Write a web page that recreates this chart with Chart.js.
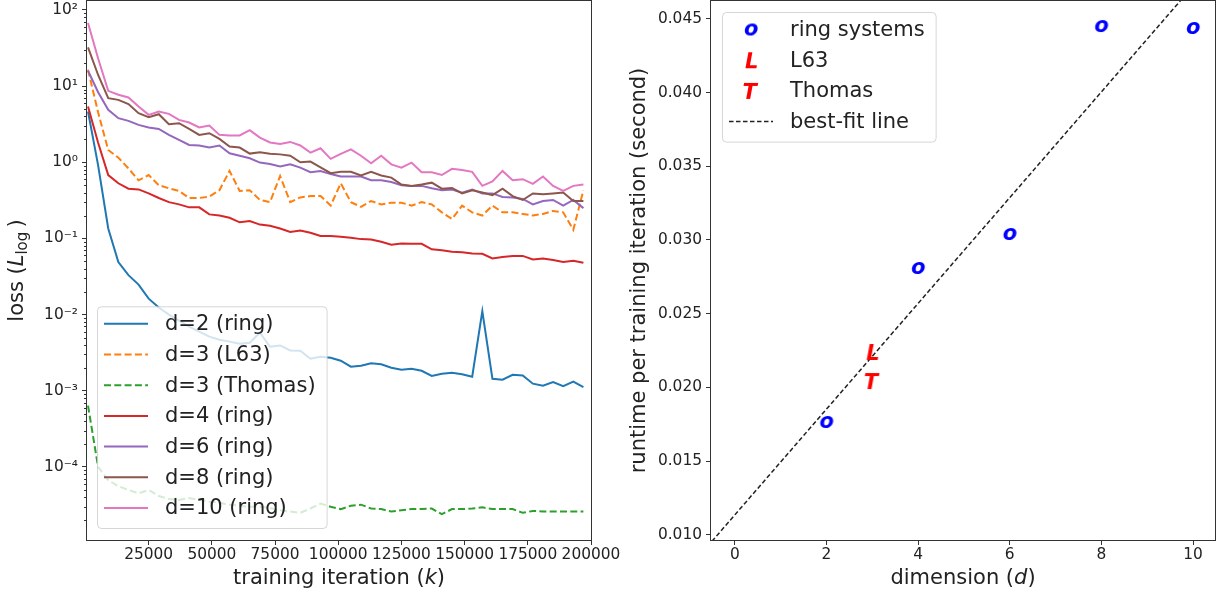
<!DOCTYPE html>
<html>
<head>
<meta charset="utf-8">
<script src="https://cdn.jsdelivr.net/npm/chart.js@4.4.0/dist/chart.umd.min.js"></script>
<style>
  body { margin: 0; background: #fff; width: 1221px; height: 597px; overflow: hidden; position: relative; }
  canvas { position: absolute; top: 0; }
  #runtime_ctx { left: 610px; }
  #loss_ctx { left: 0; }
</style>
</head>
<body>
<canvas id="runtime_ctx" width="611" height="597"></canvas>
<canvas id="loss_ctx" width="640" height="597"></canvas>
<script>
// iterations at which the loss was logged
const iterations = [
  1000, 5000, 9000, 13000, 17000, 21000, 25000, 29000, 33000, 37000,
  41000, 45000, 49000, 53000, 57000, 61000, 65000, 69000, 73000, 77000,
  81000, 85000, 89000, 93000, 97000, 101000, 105000, 109000, 113000, 117000,
  121000, 125000, 129000, 133000, 137000, 141000, 145000, 149000, 153000, 157000,
  161000, 165000, 169000, 173000, 177000, 181000, 185000, 189000, 193000, 197000,
];

const lossD2Ring = [
  4.64, 0.91, 0.135, 0.049, 0.033, 0.0248, 0.0162, 0.0124, 0.0100, 0.00834,
  0.00695, 0.00597, 0.00514, 0.00469, 0.00442, 0.00415, 0.00428, 0.0058, 0.00379, 0.00394,
  0.00339, 0.00336, 0.00264, 0.0028, 0.00272, 0.00248, 0.00207, 0.00213, 0.0023, 0.00223,
  0.00201, 0.00189, 0.00195, 0.00183, 0.00157, 0.00167, 0.00173, 0.00165, 0.00153, 0.0111,
  0.00144, 0.0014, 0.00162, 0.00159, 0.00124, 0.00117, 0.0013, 0.00115, 0.00132, 0.00112,
];
const lossD3L63 = [
  16.4, 4.5, 1.45, 1.15, 0.83, 0.58, 0.68, 0.50, 0.455, 0.42,
  0.34, 0.34, 0.354, 0.43, 0.77, 0.42, 0.43, 0.32, 0.30, 0.66,
  0.30, 0.346, 0.36, 0.36, 0.27, 0.53, 0.30, 0.26, 0.31, 0.28,
  0.295, 0.295, 0.27, 0.30, 0.28, 0.22, 0.18, 0.27, 0.22, 0.20,
  0.27, 0.22, 0.22, 0.21, 0.20, 0.21, 0.23, 0.22, 0.13, 0.43,
];
const lossD3Thomas = [
  6.4e-4, 1.0e-4, 6.7e-5, 5.6e-5, 5.0e-5, 4.5e-5, 5.0e-5, 4.15e-5, 3.8e-5, 3.7e-5,
  3.9e-5, 3.7e-5, 3.5e-5, 3.4e-5, 3.2e-5, 3.1e-5, 3.0e-5, 3.0e-5, 2.9e-5, 2.7e-5,
  2.6e-5, 2.5e-5, 2.85e-5, 3.3e-5, 3.0e-5, 2.8e-5, 3.1e-5, 3.2e-5, 2.85e-5, 2.8e-5,
  2.6e-5, 2.7e-5, 2.8e-5, 2.8e-5, 2.85e-5, 2.4e-5, 2.8e-5, 2.8e-5, 2.85e-5, 2.95e-5,
  2.8e-5, 2.8e-5, 2.8e-5, 2.5e-5, 2.65e-5, 2.6e-5, 2.6e-5, 2.6e-5, 2.6e-5, 2.6e-5,
];
const lossD4Ring = [
  5.4, 1.8, 0.68, 0.53, 0.45, 0.44, 0.39, 0.34, 0.30, 0.28,
  0.256, 0.256, 0.207, 0.20, 0.187, 0.163, 0.169, 0.152, 0.147, 0.135,
  0.122, 0.127, 0.119, 0.108, 0.108, 0.105, 0.102, 0.098, 0.097, 0.0905,
  0.083, 0.086, 0.085, 0.085, 0.072, 0.070, 0.067, 0.066, 0.0635, 0.063,
  0.0546, 0.057, 0.059, 0.059, 0.053, 0.0546, 0.052, 0.049, 0.051, 0.048,
];
const lossD6Ring = [
  15.9, 8.3, 4.88, 3.79, 3.5, 3.1, 2.86, 2.74, 2.29, 1.97,
  1.69, 1.66, 1.57, 1.66, 1.31, 1.22, 1.13, 0.99, 0.95, 0.88,
  0.94, 0.85, 0.74, 0.77, 0.70, 0.65, 0.65, 0.65, 0.58, 0.58,
  0.55, 0.50, 0.49, 0.49, 0.455, 0.43, 0.44, 0.40, 0.44, 0.39,
  0.39, 0.35, 0.346, 0.33, 0.28, 0.31, 0.32, 0.27, 0.32, 0.25,
];
const lossD8Ring = [
  32.3, 14, 6.95, 6.6, 5.8, 4.41, 3.91, 4.28, 3.16, 3.26,
  2.74, 2.29, 2.41, 2.03, 1.61, 1.56, 1.3, 1.35, 1.29, 1.27,
  1.22, 1.0, 1.02, 0.86, 0.72, 0.75, 0.75, 0.67, 0.75, 0.67,
  0.63, 0.51, 0.49, 0.51, 0.54, 0.45, 0.46, 0.39, 0.43, 0.40,
  0.37, 0.45, 0.36, 0.32, 0.39, 0.38, 0.39, 0.40, 0.31, 0.31,
];
const lossD10Ring = [
  67.4, 23, 8.67, 7.69, 7.1, 5.4, 4.19, 4.65, 4.32, 3.6,
  3.33, 2.86, 3.04, 2.29, 2.25, 2.25, 2.64, 2.11, 1.82, 1.74,
  1.85, 1.66, 1.34, 1.53, 1.11, 1.29, 1.48, 1.22, 0.97, 1.22,
  0.94, 0.85, 0.99, 0.74, 0.74, 0.68, 0.82, 0.79, 0.75, 0.49,
  0.56, 0.77, 0.58, 0.60, 0.52, 0.65, 0.49, 0.42, 0.49, 0.51,
];

const lossSeries = [lossD2Ring, lossD3L63, lossD3Thomas, lossD4Ring, lossD6Ring, lossD8Ring, lossD10Ring];
const lossLabels = ["d=2 (ring)", "d=3 (L63)", "d=3 (Thomas)", "d=4 (ring)", "d=6 (ring)", "d=8 (ring)", "d=10 (ring)"];
const lossColors = ["#1f77b4", "#ff7f0e", "#2ca02c", "#d62728", "#9467bd", "#8c564b", "#e377c2"];
const lossDashed = [false, true, true, false, false, false, false];

const iterTicks = [25000, 50000, 75000, 100000, 125000, 150000, 175000, 200000];
const lossTicks = [1e-4, 1e-3, 1e-2, 1e-1, 1, 10, 100];
const lossTickLabels = ["10\u207b\u2074", "10\u207b\u00b3", "10\u207b\u00b2", "10\u207b\u00b9", "10\u2070", "10\u00b9", "10\u00b2"];

// runtime per training iteration against dimension
const ringDim = [2, 4, 6, 8, 10];
const ringRuntime = [0.01765, 0.0281, 0.03041, 0.04452, 0.04439];
const l63Dim = [3];
const l63Runtime = [0.0224];
const thomasDim = [3];
const thomasRuntime = [0.02043];
const fitDim = [-0.5, 10.5];
const fitRuntime = [0.00955, 0.04902];

const dimTicks = [0, 2, 4, 6, 8, 10];
const runtimeTicks = [0.010, 0.015, 0.020, 0.025, 0.030, 0.035, 0.040, 0.045];

Chart.defaults.font.family = "DejaVu Sans";
Chart.defaults.color = "#222";

const FONT = '21px "DejaVu Sans"';
const FONT_I = 'italic 21px "DejaVu Sans"';
const FONT_SUB = '15px "DejaVu Sans"';
const tickFont = { family: "DejaVu Sans", size: 15.4 };

function letterMarker(ch, color) {
  let c = document.createElement("canvas");
  c.width = 28;
  c.height = 28;
  let g = c.getContext("2d");
  g.font = 'italic bold 21px "DejaVu Sans"';
  g.fillStyle = color;
  let m = g.measureText(ch);
  let w = m.actualBoundingBoxLeft + m.actualBoundingBoxRight;
  let h = m.actualBoundingBoxAscent + m.actualBoundingBoxDescent;
  g.fillText(ch, (28 - w) / 2 + m.actualBoundingBoxLeft, (28 - h) / 2 + m.actualBoundingBoxAscent);
  return c;
}

// text made of pieces with their own fonts, centred on (x, y)
function drawRich(ctx, parts, x, y, rotate) {
  ctx.save();
  ctx.translate(x, y);
  if (rotate) ctx.rotate(-Math.PI / 2);
  ctx.textBaseline = "middle";
  ctx.textAlign = "left";
  ctx.fillStyle = "#222";
  let total = 0;
  parts.forEach((p) => {
    ctx.font = p[1];
    total += ctx.measureText(p[0]).width;
  });
  let cx = -total / 2;
  parts.forEach((p) => {
    ctx.font = p[1];
    ctx.fillText(p[0], cx, p[2] || 0);
    cx += ctx.measureText(p[0]).width;
  });
  ctx.restore();
}

function makeFrame(cfg) {
  return {
    id: "frame",
    afterDraw(chart) {
      let ctx = chart.ctx;
      let a = chart.chartArea;
      ctx.save();
      ctx.strokeStyle = "#333";
      ctx.lineWidth = 1;
      ctx.strokeRect(a.left - 0.5, a.top - 0.5, a.right - a.left + 1, a.bottom - a.top + 1);
      if (cfg.minor) {
        let ys = chart.scales.y;
        cfg.minor.forEach((v) => {
          if (v <= ys.min || v >= ys.max) return;
          let py = Math.round(ys.getPixelForValue(v)) + 0.5;
          ctx.beginPath();
          ctx.moveTo(a.left - 3, py);
          ctx.lineTo(a.left, py);
          ctx.stroke();
        });
      }
      ctx.restore();
      drawRich(ctx, cfg.xTitle, (a.left + a.right) / 2, 579, false);
      drawRich(ctx, cfg.yTitle, cfg.yTitleX, (a.top + a.bottom) / 2, true);
    },
  };
}

function makeLegend(cfg) {
  return {
    id: "legendBox",
    afterDatasetsDraw(chart) {
      let ctx = chart.ctx;
      let a = chart.chartArea;
      let sets = chart.data.datasets;
      ctx.save();
      ctx.font = FONT;
      let tw = 0;
      sets.forEach((d) => (tw = Math.max(tw, ctx.measureText(d.label).width)));
      let w = 68 + tw + 11;
      let h = 17.5 + (sets.length - 1) * 30.7 + 20;
      let x = a.left + cfg.dx;
      let y = cfg.top ? a.top + cfg.dy : a.bottom - cfg.dy - h;

      ctx.beginPath();
      ctx.roundRect(x + 0.5, y + 0.5, w, h, 4);
      ctx.fillStyle = "rgba(255,255,255,0.8)";
      ctx.fill();
      ctx.strokeStyle = "rgba(204,204,204,0.8)";
      ctx.lineWidth = 1;
      ctx.stroke();

      sets.forEach((d, i) => {
        let ry = y + 17.5 + i * 30.7;
        if (d.showLine) {
          ctx.save();
          ctx.strokeStyle = d.borderColor;
          ctx.lineWidth = d.borderWidth;
          ctx.setLineDash(d.borderDash || []);
          ctx.beginPath();
          ctx.moveTo(x + 7, ry);
          ctx.lineTo(x + 51, ry);
          ctx.stroke();
          ctx.restore();
        } else {
          let img = d.pointStyle;
          ctx.drawImage(img, x + 29 - img.width / 2, ry - img.height / 2);
        }
        ctx.fillStyle = "#222";
        ctx.textBaseline = "middle";
        ctx.fillText(d.label, x + 68, ry + 1);
      });
      ctx.restore();
    },
  };
}

let minorLoss = [];
for (let e = -5; e <= 2; e++) {
  for (let m = 2; m <= 9; m++) minorLoss.push(m * Math.pow(10, e));
}

let lossCtx = document.getElementById("loss_ctx").getContext("2d");
let runtimeCtx = document.getElementById("runtime_ctx").getContext("2d");

let lossChart = new Chart(lossCtx, {
  type: "scatter",
  data: {
    datasets: lossSeries.map((s, i) => ({
      label: lossLabels[i],
      data: iterations.map((x, j) => ({ x: x, y: s[j] })),
      showLine: true,
      borderColor: lossColors[i],
      borderWidth: 2,
      borderDash: lossDashed[i] ? [7, 3.3] : [],
      pointRadius: 0,
      tension: 0,
      order: -i,
    })),
  },
  options: {
    responsive: false,
    animation: false,
    events: [],
    layout: { autoPadding: false, padding: { top: 1, right: 49, left: 0, bottom: 0 } },
    plugins: { legend: { display: false }, tooltip: { enabled: false } },
    scales: {
      x: {
        type: "linear",
        bounds: "data",
        min: 600,
        max: 200000,
        afterBuildTicks: (s) => {
          s.ticks = iterTicks.map((v) => ({ value: v }));
        },
        afterFit: (s) => {
          s.height = 57;
          s.paddingLeft = 0;
          s.paddingRight = 0;
        },
        ticks: { autoSkip: false, maxRotation: 0, minRotation: 0, padding: 1, font: tickFont, color: "#222", callback: (v) => String(v) },
        grid: { drawOnChartArea: false, drawTicks: true, tickLength: 5, tickColor: "#333" },
        border: { display: false },
      },
      y: {
        type: "logarithmic",
        bounds: "data",
        min: 1.1e-5,
        max: 131,
        afterBuildTicks: (s) => {
          s.ticks = lossTicks.map((v) => ({ value: v }));
        },
        afterFit: (s) => {
          s.width = 87;
          s.paddingTop = 0;
          s.paddingBottom = 0;
        },
        ticks: { autoSkip: false, padding: 4, font: tickFont, color: "#222", callback: (v, i) => lossTickLabels[i] },
        grid: { drawOnChartArea: false, drawTicks: true, tickLength: 5, tickColor: "#333" },
        border: { display: false },
      },
    },
  },
  plugins: [
    makeFrame({
      minor: minorLoss,
      xTitle: [["training iteration (", FONT], ["k", FONT_I], [")", FONT]],
      yTitle: [["loss (", FONT], ["L", FONT_I], ["log", FONT_SUB, 5], ["\u2009)", FONT]],
      yTitleX: 18,
    }),
    makeLegend({ top: false, dx: 10, dy: 12 }),
  ],
});

let runtimeChart = new Chart(runtimeCtx, {
  type: "scatter",
  data: {
    datasets: [
      {
        label: "ring systems",
        data: ringDim.map((x, i) => ({ x: x, y: ringRuntime[i] })),
        pointStyle: letterMarker("o", "#0000ff"),
      },
      {
        label: "L63",
        data: l63Dim.map((x, i) => ({ x: x, y: l63Runtime[i] })),
        pointStyle: letterMarker("L", "#ff0000"),
      },
      {
        label: "Thomas",
        data: thomasDim.map((x, i) => ({ x: x, y: thomasRuntime[i] })),
        pointStyle: letterMarker("T", "#ff0000"),
      },
      {
        label: "best-fit line",
        data: fitDim.map((x, i) => ({ x: x, y: fitRuntime[i] })),
        showLine: true,
        borderColor: "#222",
        borderWidth: 1.5,
        borderDash: [4.5, 2.5],
        pointRadius: 0,
      },
    ],
  },
  options: {
    responsive: false,
    animation: false,
    events: [],
    layout: { autoPadding: false, padding: { top: 1, right: 6, left: 0, bottom: 0 } },
    plugins: { legend: { display: false }, tooltip: { enabled: false } },
    scales: {
      x: {
        type: "linear",
        bounds: "data",
        min: -0.52,
        max: 10.48,
        afterBuildTicks: (s) => {
          s.ticks = dimTicks.map((v) => ({ value: v }));
        },
        afterFit: (s) => {
          s.height = 57;
          s.paddingLeft = 0;
          s.paddingRight = 0;
        },
        ticks: { autoSkip: false, maxRotation: 0, minRotation: 0, padding: 1, font: tickFont, color: "#222", callback: (v) => String(v) },
        grid: { drawOnChartArea: false, drawTicks: true, tickLength: 5, tickColor: "#333" },
        border: { display: false },
      },
      y: {
        type: "linear",
        bounds: "data",
        min: 0.00964,
        max: 0.04622,
        afterBuildTicks: (s) => {
          s.ticks = runtimeTicks.map((v) => ({ value: v }));
        },
        afterFit: (s) => {
          s.width = 101;
          s.paddingTop = 0;
          s.paddingBottom = 0;
        },
        ticks: { autoSkip: false, padding: 4, font: tickFont, color: "#222", callback: (v) => v.toFixed(3) },
        grid: { drawOnChartArea: false, drawTicks: true, tickLength: 5, tickColor: "#333" },
        border: { display: false },
      },
    },
  },
  plugins: [
    makeFrame({
      xTitle: [["dimension (", FONT], ["d", FONT_I], [")", FONT]],
      yTitle: [["runtime per training iteration (second)", FONT]],
      yTitleX: 30,
    }),
    makeLegend({ top: true, dx: 11, dy: 11 }),
  ],
});
</script>
</body>
</html>
